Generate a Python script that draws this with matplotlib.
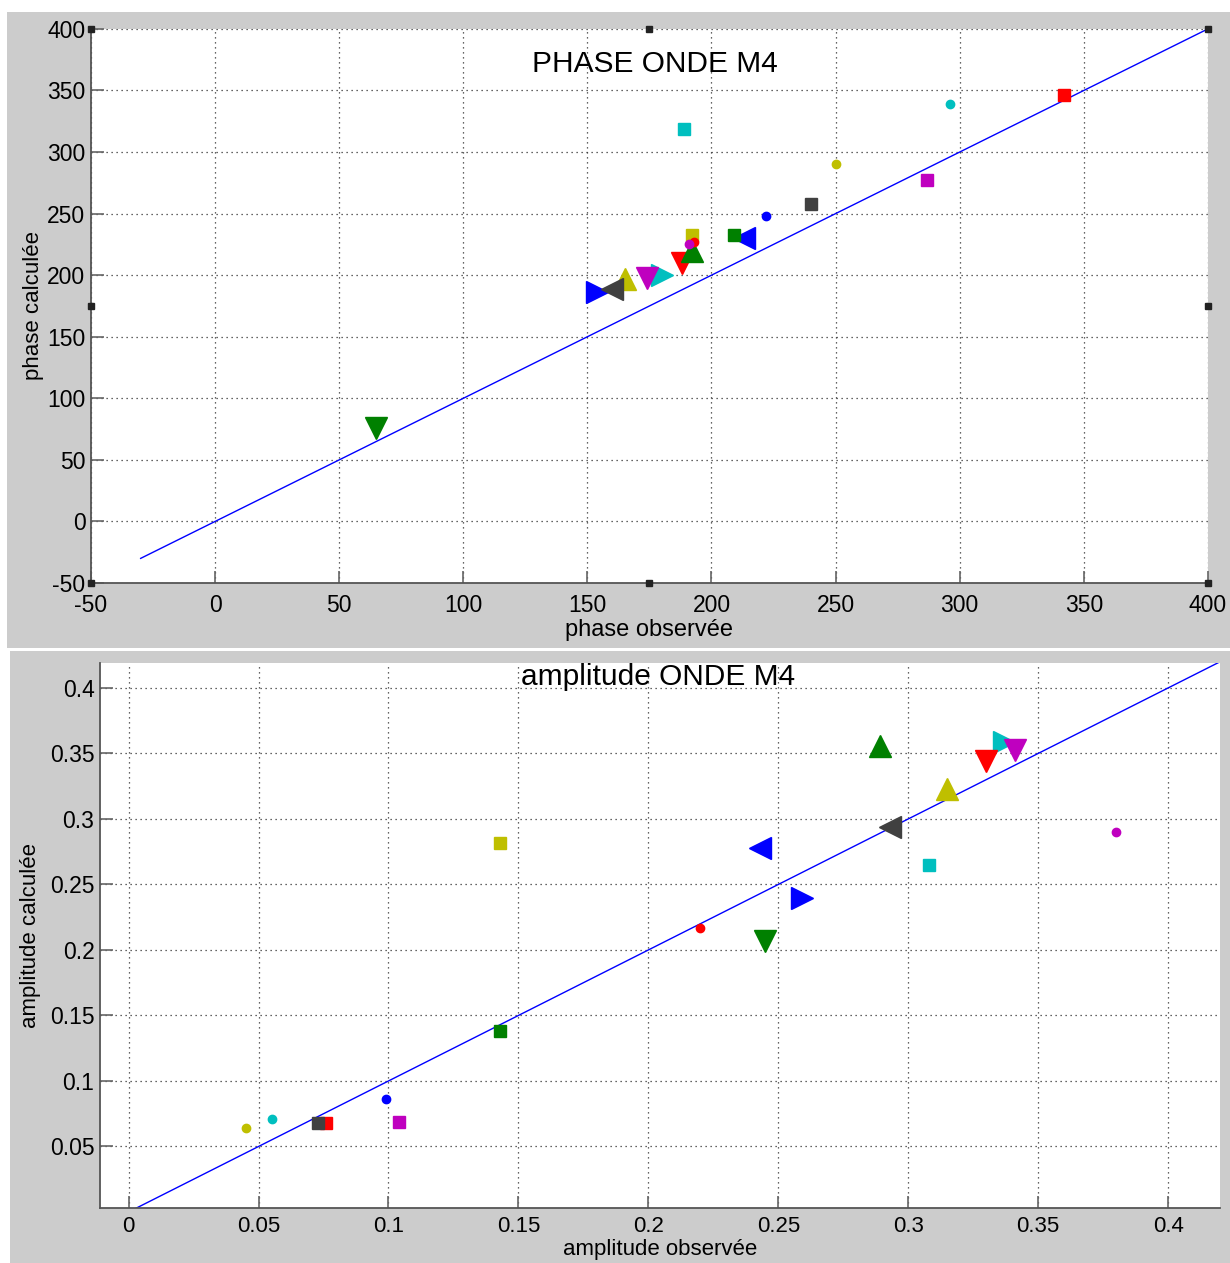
import matplotlib
matplotlib.use("Agg")
import matplotlib.pyplot as plt
from matplotlib.patches import Rectangle
from matplotlib.ticker import FuncFormatter, MultipleLocator

plt.rcParams["font.family"] = ["Liberation Sans", "DejaVu Sans"]
plt.rcParams["axes.unicode_minus"] = False

# one entry per station: same order in both panels
station_colors = ["#008000", "#0000ff", "#bfbf00", "#00bfbf", "#bf00bf", "#ff0000",
                  "#008000", "#0000ff", "#404040",
                  "#ff0000", "#00bfbf", "#bf00bf", "#404040", "#008000", "#bfbf00",
                  "#00bfbf", "#bfbf00", "#0000ff", "#ff0000", "#bf00bf"]
station_markers = ["v", ">", "^", ">", "v", "v", "^", "<", "<",
                   "s", "s", "s", "s", "s", "s",
                   "o", "o", "o", "o", "o"]

phase_obs = [65, 154, 165, 180, 174, 188, 192, 213, 160,
             342, 189, 287, 240, 209, 192,
             296, 250, 222, 193, 191]
phase_calc = [76, 186, 197, 200, 198, 210, 220, 230, 189,
              346, 319, 277, 258, 233, 233,
              339, 290, 248, 227, 225]

amp_obs = [0.245, 0.259, 0.315, 0.337, 0.341, 0.330, 0.289, 0.243, 0.293,
           0.076, 0.308, 0.104, 0.073, 0.143, 0.143,
           0.055, 0.045, 0.099, 0.220, 0.380]
amp_calc = [0.207, 0.240, 0.323, 0.359, 0.353, 0.344, 0.356, 0.278, 0.294,
            0.068, 0.265, 0.069, 0.068, 0.138, 0.282,
            0.071, 0.064, 0.086, 0.217, 0.290]

phase_lim = [-50, 400]
phase_ticks = list(range(-50, 401, 50))
phase_ref = [-30, 400]

amp_xlim = [-0.011, 0.42]
amp_ylim = [0.003, 0.419]
amp_ref = [0.0, 0.42]

MARKER_SIZE = {"v": 16, "^": 16, "<": 16, ">": 16, "s": 8.5, "o": 6}
GRAY = "#cccccc"


def style_axes(ax):
    ax.set_facecolor("white")
    for side in ("top", "right"):
        ax.spines[side].set_visible(False)
    for side in ("left", "bottom"):
        ax.spines[side].set_color("#555555")
        ax.spines[side].set_linewidth(1.3)
    ax.tick_params(direction="in", length=9, width=1.2, color="#666666",
                   labelsize=16.5, pad=4)
    ax.grid(True, color="#333333", linestyle=(0, (1, 3)), linewidth=0.9)
    ax.set_axisbelow(True)


def scatter_stations(ax, xs, ys):
    for x, y, c, m in zip(xs, ys, station_colors, station_markers):
        ax.plot(x, y, marker=m, color=c, markeredgecolor=c,
                markersize=MARKER_SIZE[m], linestyle="None", zorder=3)


fig = plt.figure(figsize=(12.30, 12.63), dpi=100)
fig.patch.set_facecolor("white")
fig.patches.append(Rectangle((0.0057, 0.487), 0.995, 0.5035, transform=fig.transFigure,
                             facecolor=GRAY, edgecolor="none", zorder=-10))
fig.patches.append(Rectangle((0.008, 0.0), 0.992, 0.4846, transform=fig.transFigure,
                             facecolor=GRAY, edgecolor="none", zorder=-10))

# --- phase panel
ax1 = fig.add_axes([0.074, 0.5384, 0.908, 0.4387])
style_axes(ax1)
ax1.plot(phase_ref, phase_ref, color="#0000ff", linewidth=1.0, zorder=2)
scatter_stations(ax1, phase_obs, phase_calc)
ax1.set_xlim(phase_lim)
ax1.set_ylim(phase_lim)
ax1.set_xticks(phase_ticks)
ax1.set_yticks(phase_ticks)
ax1.tick_params(axis="x", pad=8)
ax1.set_xlabel("phase observée", fontsize=17, labelpad=1)
ax1.set_ylabel("phase calculée", fontsize=16, labelpad=2)
ax1.text(0.505, 0.937, "PHASE ONDE M4", transform=ax1.transAxes,
         ha="center", va="center", fontsize=21.5)

# selection handles drawn by the editor on the phase axes
mid = (phase_lim[0] + phase_lim[1]) / 2
hx = [phase_lim[0], mid, phase_lim[1], phase_lim[0], phase_lim[1], phase_lim[0], mid, phase_lim[1]]
hy = [phase_lim[1], phase_lim[1], phase_lim[1], mid, mid, phase_lim[0], phase_lim[0], phase_lim[0]]
ax1.plot(hx, hy, marker="s", color="#222222", markersize=4, linestyle="None",
         clip_on=False, zorder=5)

# --- amplitude panel
ax2 = fig.add_axes([0.0813, 0.0435, 0.9106, 0.4315])
style_axes(ax2)
ax2.plot(amp_ref, amp_ref, color="#0000ff", linewidth=1.0, zorder=2)
scatter_stations(ax2, amp_obs, amp_calc)
ax2.set_xlim(amp_xlim)
ax2.set_ylim(amp_ylim)
ax2.xaxis.set_major_locator(MultipleLocator(0.05))
ax2.yaxis.set_major_locator(MultipleLocator(0.05))
fmt = FuncFormatter(lambda v, pos: "%g" % round(v, 3))
ax2.xaxis.set_major_formatter(fmt)
ax2.yaxis.set_major_formatter(fmt)
ax2.tick_params(axis="x", pad=6, labelsize=16)
ax2.set_xlabel("amplitude observée", fontsize=16, labelpad=1)
ax2.set_ylabel("amplitude calculée", fontsize=16, labelpad=6)
ax2.text(0.498, 0.974, "amplitude ONDE M4", transform=ax2.transAxes,
         ha="center", va="center", fontsize=21.5)

fig.savefig("out.png", dpi=100, facecolor=fig.get_facecolor())
